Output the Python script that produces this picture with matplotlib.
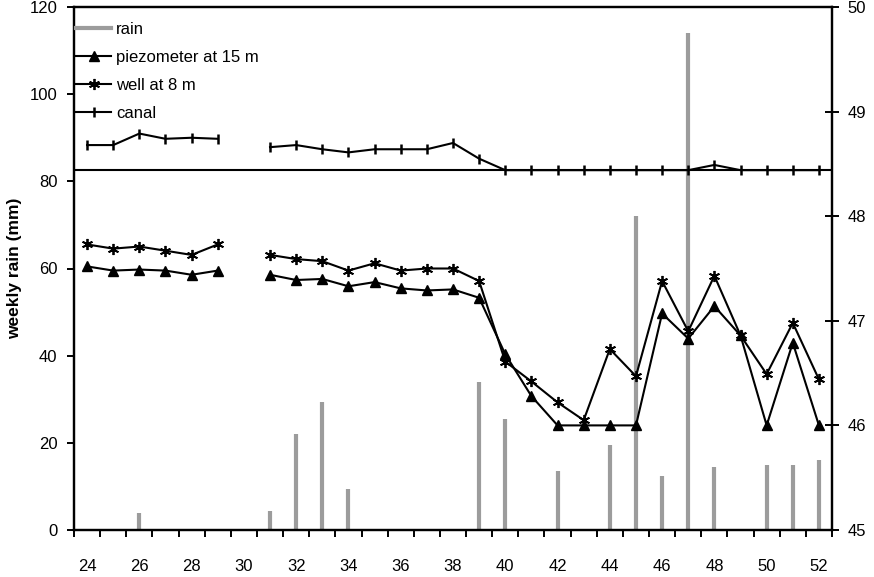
import numpy as np
import matplotlib
matplotlib.use("Agg")
import matplotlib.pyplot as plt
from matplotlib.ticker import FixedLocator
from matplotlib.lines import Line2D

plt.rcParams['font.family'] = ['Liberation Sans', 'DejaVu Sans']

weeks = list(range(24, 53))
rain = [0, 0, 3.9, 0, 0, 0, 0, 4.4, 22, 29.3, 9.5, 0, 0, 0, 0, 34, 25.5,
        0, 13.5, 0, 19.5, 72, 12.5, 114, 14.5, 0, 15, 15, 16]
piezometer = [47.52, 47.48, 47.49, 47.48, 47.44, 47.48, np.nan, 47.44, 47.39, 47.40,
              47.33, 47.37, 47.31, 47.29, 47.30, 47.22, 46.68, 46.28, 46.00, 46.00,
              46.00, 46.00, 47.07, 46.83, 47.14, 46.86, 46.00, 46.79, 46.00]
well = [47.73, 47.69, 47.71, 47.67, 47.63, 47.73, np.nan, 47.63, 47.59, 47.57,
        47.48, 47.55, 47.48, 47.50, 47.50, 47.38, 46.61, 46.42, 46.22, 46.05,
        46.73, 46.47, 47.38, 46.90, 47.43, 46.86, 46.49, 46.98, 46.44]
canal = [48.68, 48.68, 48.79, 48.74, 48.75, 48.74, np.nan, 48.66, 48.68, 48.64,
         48.61, 48.64, 48.64, 48.64, 48.70, 48.55, 48.44, 48.44, 48.44, 48.44,
         48.44, 48.44, 48.44, 48.44, 48.49, 48.44, 48.44, 48.44, 48.44]
canal_base = 48.44
x_labels = list(range(24, 53, 2))

W, H = 874, 577
L, R, T, B = 74, 832, 7, 530
fig = plt.figure(figsize=(W/100, H/100), dpi=100)
ax = fig.add_axes([L/W, 1 - B/H, (R-L)/W, (B-T)/H])
ax2 = ax.twinx()

rain_plot = [r if r > 0 else np.nan for r in rain]
ax.vlines(weeks, 0, rain_plot, colors='#9c9c9c', linewidth=3.0, zorder=2)
ax.set_ylim(0, 120)
ax.set_xlim(23.5, 52.5)
ax.set_yticks([0, 20, 40, 60, 80, 100, 120])
ax.tick_params(axis='y', direction='out', length=5, width=1.4, labelsize=12, pad=7)
ax.set_ylabel('weekly rain (mm)', fontsize=12.5, fontweight='bold')
ax.yaxis.set_label_coords((22 - L)/(R - L), 0.5)

ax.set_xticks(x_labels)
ax.set_xticklabels([str(v) for v in x_labels])
ax.xaxis.set_minor_locator(FixedLocator(np.arange(23.5, 53, 1)))
ax.tick_params(axis='x', which='major', length=0, pad=21, labelsize=12)
ax.tick_params(axis='x', which='minor', direction='out', length=5, width=1.4)

ax2.axhline(canal_base, color='black', linewidth=1.5, zorder=1)
l1, = ax2.plot(weeks, piezometer, color='black', lw=1.5, marker='^', ms=7,
               mfc='black', mec='black')
l2, = ax2.plot(weeks, well, color='black', lw=1.5, marker=(6, 2, 0), ms=8, mew=1.3)
l3, = ax2.plot(weeks, canal, color='black', lw=1.5, marker='|', ms=7, mew=1.8)
ax2.set_ylim(45, 50)
ax2.set_yticks([45, 46, 47, 48, 49, 50])
ax2.tick_params(axis='y', direction='inout', length=10, width=1.4, labelsize=12, pad=6)

for a in (ax, ax2):
    for s in a.spines.values():
        s.set_linewidth(1.6)

rain_handle = Line2D([], [], color='#9c9c9c', lw=3)
leg = ax2.legend([rain_handle, l1, l2, l3],
                 ['rain', 'piezometer at 15 m', 'well at 8 m', 'canal'],
                 loc='upper left', bbox_to_anchor=(2/(R-L), 1 - 15/(B-T)), frameon=False,
                 fontsize=12, handlelength=2.1, handletextpad=0.3,
                 labelspacing=0.78, borderaxespad=0.0, borderpad=0.0)

fig.savefig('out.png', dpi=100)
